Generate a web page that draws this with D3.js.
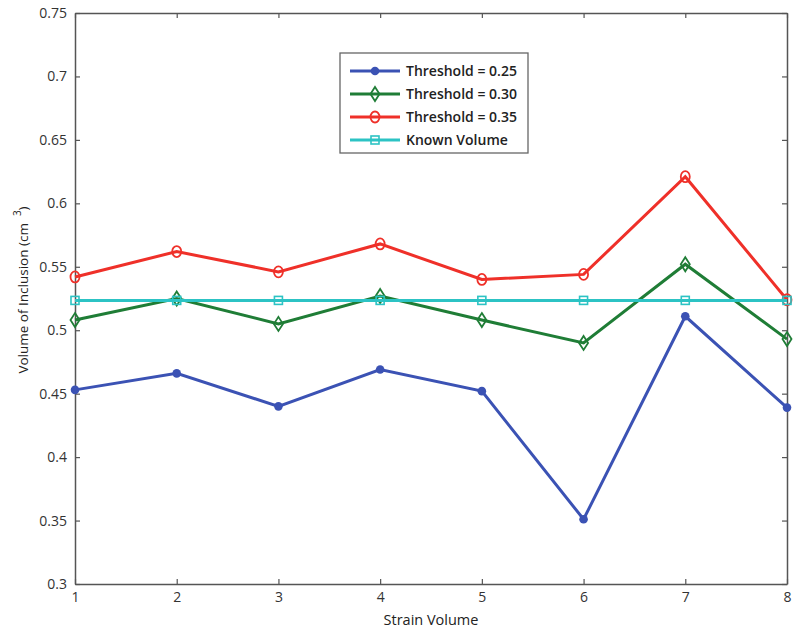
<!DOCTYPE html>
<html><head><meta charset="utf-8">
<script src="https://cdn.jsdelivr.net/npm/d3@7"></script>
<style>body{margin:0;background:#fff}</style>
</head><body>
<svg id="c" width="800" height="634"></svg>
<script>
const strainVolumes = [1,2,3,4,5,6,7,8];
const threshold025 = [0.453,0.466,0.440,0.469,0.452,0.351,0.511,0.439];
const threshold030 = [0.508,0.525,0.505,0.527,0.508,0.490,0.552,0.493];
const threshold035 = [0.542,0.562,0.546,0.568,0.540,0.544,0.621,0.524];
const knownVolume  = [0.5235,0.5235,0.5235,0.5235,0.5235,0.5235,0.5235,0.5235];
const yTicks = [0.3,0.35,0.4,0.45,0.5,0.55,0.6,0.65,0.7,0.75];
const seriesNames = ["Threshold = 0.25","Threshold = 0.30","Threshold = 0.35","Known Volume"];

const series = [
  {name:seriesNames[0], values:threshold025, color:"#3b52b4", marker:"dot"},
  {name:seriesNames[1], values:threshold030, color:"#1f7d36", marker:"diamond"},
  {name:seriesNames[2], values:threshold035, color:"#ef3029", marker:"circle"},
  {name:seriesNames[3], values:knownVolume,  color:"#2cc3c4", marker:"square"}
];

const svg = d3.select("#c");
const L=75, R=787, T=13, B=584;
const x = d3.scaleLinear().domain([1,8]).range([L,R]);
const y = d3.scaleLinear().domain([0.3,0.75]).range([B,T]);
const font = "'Open Sans', sans-serif";
const axisColor = "#555";

// axes
const gx = svg.append("g").attr("transform",`translate(0,${B})`)
  .call(d3.axisBottom(x).tickValues(strainVolumes).tickFormat(d3.format("d")).tickSizeInner(-5).tickSizeOuter(0).tickPadding(8));
const gy = svg.append("g").attr("transform",`translate(${L},0)`)
  .call(d3.axisLeft(y).tickValues(yTicks).tickFormat(d=>String(+d.toFixed(2))).tickSizeInner(-5).tickSizeOuter(0).tickPadding(8));
const gxt = svg.append("g").attr("transform",`translate(0,${T})`)
  .call(d3.axisTop(x).tickValues(strainVolumes).tickFormat("").tickSizeInner(-5).tickSizeOuter(0));
const gyr = svg.append("g").attr("transform",`translate(${R},0)`)
  .call(d3.axisRight(y).tickValues(yTicks).tickFormat("").tickSizeInner(-5).tickSizeOuter(0));
[gx,gy,gxt,gyr].forEach(g=>{
  g.selectAll("path").attr("stroke",axisColor).attr("stroke-width",1.5);
  g.selectAll("line").attr("stroke",axisColor).attr("stroke-width",1.2);
  g.selectAll("text").attr("fill","#333").style("font-family",font).style("font-size","14px");
});

// lines
const line = d3.line().x((d,i)=>x(strainVolumes[i])).y(d=>y(d));
function drawMarker(g, type, color, cx, cy){
  if(type==="dot") g.append("circle").attr("cx",cx).attr("cy",cy).attr("r",4.3).attr("fill",color);
  else if(type==="circle") g.append("ellipse").attr("cx",cx).attr("cy",cy).attr("rx",4.5).attr("ry",5.5).attr("fill","none").attr("stroke",color).attr("stroke-width",1.8);
  else if(type==="diamond") g.append("path").attr("d",`M${cx},${cy-7}L${cx+4.5},${cy}L${cx},${cy+7}L${cx-4.5},${cy}Z`).attr("fill","none").attr("stroke",color).attr("stroke-width",1.8);
  else if(type==="square") g.append("rect").attr("x",cx-4).attr("y",cy-4).attr("width",8).attr("height",8).attr("fill","none").attr("stroke",color).attr("stroke-width",1.6);
}
const plot = svg.append("g");
series.forEach(s=>{
  plot.append("path").attr("d",line(s.values)).attr("fill","none").attr("stroke",s.color).attr("stroke-width",3);
  const mg = plot.append("g");
  s.values.forEach((v,i)=>drawMarker(mg,s.marker,s.color,x(strainVolumes[i]),y(v)));
});

// legend
const lg = svg.append("g");
lg.append("rect").attr("x",340).attr("y",53).attr("width",188).attr("height",100)
  .attr("fill","#fff").attr("stroke","#666").attr("stroke-width",1.3);
series.forEach((s,i)=>{
  const yy = 71 + i*23;
  lg.append("line").attr("x1",350).attr("x2",400).attr("y1",yy).attr("y2",yy).attr("stroke",s.color).attr("stroke-width",3);
  drawMarker(lg,s.marker,s.color,375,yy);
  lg.append("text").attr("x",406).attr("y",yy).attr("dy","0.35em").text(s.name)
    .style("font-family",font).style("font-size","14px").style("font-weight","600").attr("fill","#222");
});

// axis titles
svg.append("text").attr("x",(L+R)/2).attr("y",625).attr("text-anchor","middle")
  .style("font-family",font).style("font-size","14.5px").attr("fill","#222").text("Strain Volume");
const yt = svg.append("text").attr("transform","translate(28,290) rotate(-90)").attr("text-anchor","middle")
  .style("font-family",font).style("font-size","13.5px").attr("fill","#222");
yt.append("tspan").text("Volume of Inclusion (cm");
yt.append("tspan").attr("dy","-7").attr("dx","7").style("font-size","10px").text("3");
yt.append("tspan").attr("dy","7").text(")");
</script>
</body></html>
